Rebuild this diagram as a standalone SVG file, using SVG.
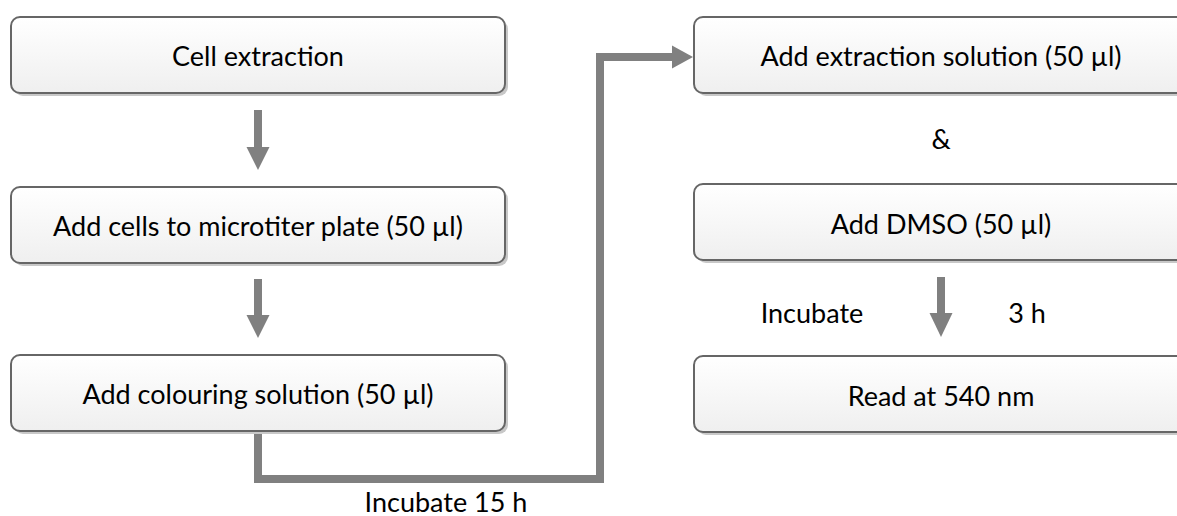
<svg xmlns="http://www.w3.org/2000/svg" width="1177" height="516" viewBox="0 0 1177 516">
  <defs>
    <linearGradient id="boxFill" x1="0" y1="0" x2="0" y2="1">
      <stop offset="0" stop-color="#ffffff"/>
      <stop offset="1" stop-color="#efefef"/>
    </linearGradient>
    <style>
      .box { fill: url(#boxFill); stroke: #666666; stroke-width: 2; }
      .shadow { fill: #c8c8c8; }
      .label { font-family: Lato, "Open Sans", "Liberation Sans", sans-serif; font-size: 27px; fill: #000000; text-anchor: middle; }
      .conn { fill: none; stroke: #808080; stroke-width: 8; stroke-linejoin: miter; }
      .head { fill: #808080; }
    </style>
  </defs>
  <rect width="1177" height="516" fill="#ffffff"/>

  <g id="connectors">
    <rect class="head" x="254" y="110" width="8" height="38"/>
    <polygon class="head" points="246.5,147 269.5,147 258,170"/>
    <rect class="head" x="254" y="279" width="8" height="37"/>
    <polygon class="head" points="246.5,315 269.5,315 258,338"/>
    <path class="conn" d="M258 432 V479 H600 V57 H673"/>
    <polygon class="head" points="672,45.5 693,57 672,68.5"/>
    <rect class="head" x="937" y="277" width="8" height="37"/>
    <polygon class="head" points="929.5,313 952.5,313 941,337"/>
  </g>

  <g id="node-cell-extraction">
    <rect class="shadow" x="14" y="20" width="494" height="76" rx="9"/>
    <rect class="box" x="11" y="17" width="494" height="76" rx="9"/>
    <text class="label" x="258" y="66">Cell extraction</text>
  </g>
  <g id="node-add-cells">
    <rect class="shadow" x="14" y="190" width="494" height="76" rx="9"/>
    <rect class="box" x="11" y="187" width="494" height="76" rx="9"/>
    <text class="label" x="258" y="236">Add cells to microtiter plate (50 µl)</text>
  </g>
  <g id="node-colouring">
    <rect class="shadow" x="14" y="358" width="494" height="76" rx="9"/>
    <rect class="box" x="11" y="355" width="494" height="76" rx="9"/>
    <text class="label" x="258" y="404">Add colouring solution (50 µl)</text>
  </g>
  <g id="node-extraction-solution">
    <rect class="shadow" x="697" y="20" width="494" height="76" rx="9"/>
    <rect class="box" x="694" y="17" width="494" height="76" rx="9"/>
    <text class="label" x="941" y="66">Add extraction solution (50 µl)</text>
  </g>
  <g id="node-dmso">
    <rect class="shadow" x="697" y="187" width="494" height="76" rx="9"/>
    <rect class="box" x="694" y="184" width="494" height="76" rx="9"/>
    <text class="label" x="941" y="234">Add DMSO (50 µl)</text>
  </g>
  <g id="node-read">
    <rect class="shadow" x="697" y="359" width="494" height="76" rx="9"/>
    <rect class="box" x="694" y="356" width="494" height="76" rx="9"/>
    <text class="label" x="941" y="406">Read at 540 nm</text>
  </g>

  <g id="labels">
    <text class="label" x="941" y="149">&amp;</text>
    <text class="label" x="812" y="323">Incubate</text>
    <text class="label" x="1027" y="323">3 h</text>
    <text class="label" x="446" y="512">Incubate 15 h</text>
  </g>
</svg>
